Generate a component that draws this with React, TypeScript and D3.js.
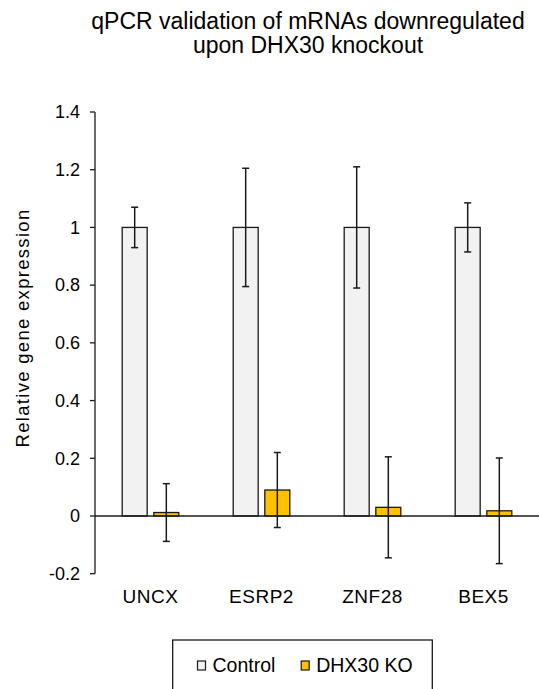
import React from "react";
import * as d3 from "d3";

const categories = ["UNCX", "ESRP2", "ZNF28", "BEX5"];
const seriesNames = ["Control", "DHX30 KO"];
const controlValues = [1, 1, 1, 1];
const controlErrors = [0.07, 0.205, 0.21, 0.085];
const koValues = [0.012, 0.09, 0.03, 0.018];
const koErrors = [0.1, 0.13, 0.175, 0.183];
const yTicks = [-0.2, 0, 0.2, 0.4, 0.6, 0.8, 1, 1.2, 1.4];
const titleLines = ["qPCR validation of mRNAs downregulated", "upon DHX30 knockout"];
const yTitle = "Relative gene expression";

const colors = ["#f2f2f2", "#ffc000"];
const FONT = "'Liberation Sans', Arial, sans-serif";

export default function App() {
  const W = 539;
  const H = 689;
  const x0 = 95;
  const x1 = 539;
  const y = d3.scaleLinear().domain([-0.2, 1.4]).range([573.7, 112]);
  const xBand = d3.scaleBand<string>().domain(categories).range([x0, x0 + 444]).padding(0);
  const inner = d3
    .scaleBand<string>()
    .domain(seriesNames)
    .range([0, xBand.bandwidth()])
    .paddingInner(0.21)
    .paddingOuter(0.86);

  const series = [
    { name: seriesNames[0], values: controlValues, errors: controlErrors, color: colors[0] },
    { name: seriesNames[1], values: koValues, errors: koErrors, color: colors[1] },
  ];

  const cap = 3.5;
  const fmt = (v: number) => (v === 0 ? "0" : String(+v.toFixed(1)));

  return (
    <svg width={W} height={H} style={{ position: "absolute", left: 0, top: 0, background: "#fff" }} fontFamily={FONT}>
      <rect x={0} y={0} width={W} height={H} fill="#fff" />
      {titleLines.map((t, i) => (
        <text key={t} x={308} y={29 + i * 24} textAnchor="middle" fontSize={23} fill="#000">
          {t}
        </text>
      ))}

      {/* bars */}
      {series.map((s) =>
        categories.map((c, i) => {
          const bx = (xBand(c) ?? 0) + (inner(s.name) ?? 0);
          const v = s.values[i];
          const yTop = y(Math.max(v, 0));
          const yBot = y(Math.min(v, 0));
          return (
            <rect
              key={s.name + c}
              x={bx}
              y={yTop}
              width={inner.bandwidth()}
              height={yBot - yTop}
              fill={s.color}
              stroke="#1a1a1a"
              strokeWidth={1.3}
            />
          );
        })
      )}

      {/* axes */}
      <line x1={x0} x2={x0} y1={y(1.4)} y2={y(-0.2)} stroke="#1a1a1a" strokeWidth={1.3} />
      <line x1={x0} x2={x1} y1={y(0)} y2={y(0)} stroke="#1a1a1a" strokeWidth={1.3} />
      {yTicks.map((t) => (
        <g key={t}>
          <line x1={x0 - 5} x2={x0} y1={y(t)} y2={y(t)} stroke="#1a1a1a" strokeWidth={1.3} />
          <text x={80} y={y(t)} dy="0.35em" textAnchor="end" fontSize={18} fill="#000">
            {fmt(t)}
          </text>
        </g>
      ))}

      {/* error bars */}
      {series.map((s) =>
        categories.map((c, i) => {
          const cx = (xBand(c) ?? 0) + (inner(s.name) ?? 0) + inner.bandwidth() / 2;
          const hi = y(s.values[i] + s.errors[i]);
          const lo = y(s.values[i] - s.errors[i]);
          return (
            <g key={"e" + s.name + c} stroke="#1a1a1a" strokeWidth={1.5}>
              <line x1={cx} x2={cx} y1={hi} y2={lo} />
              <line x1={cx - cap} x2={cx + cap} y1={hi} y2={hi} />
              <line x1={cx - cap} x2={cx + cap} y1={lo} y2={lo} />
            </g>
          );
        })
      )}

      {/* category labels */}
      {categories.map((c) => (
        <text key={c} x={(xBand(c) ?? 0) + xBand.bandwidth() / 2} y={603} textAnchor="middle" fontSize={19} letterSpacing={0.5} fill="#000">
          {c}
        </text>
      ))}

      {/* y title */}
      <text transform={`translate(29,328) rotate(-90)`} textAnchor="middle" fontSize={18.5} letterSpacing={1.3} fill="#000">
        {yTitle}
      </text>

      {/* legend */}
      <rect x={172.7} y={640} width={259.6} height={70} fill="#fff" stroke="#1a1a1a" strokeWidth={1.3} />
      {series.map((s, i) => {
        const lx = i === 0 ? 197.5 : 301.2;
        return (
          <g key={"l" + s.name}>
            <rect x={lx} y={661} width={8} height={9} fill={s.color} stroke="#1a1a1a" strokeWidth={1.2} />
            <text x={lx + 15} y={672} fontSize={19.5} fill="#000">
              {s.name}
            </text>
          </g>
        );
      })}
    </svg>
  );
}
